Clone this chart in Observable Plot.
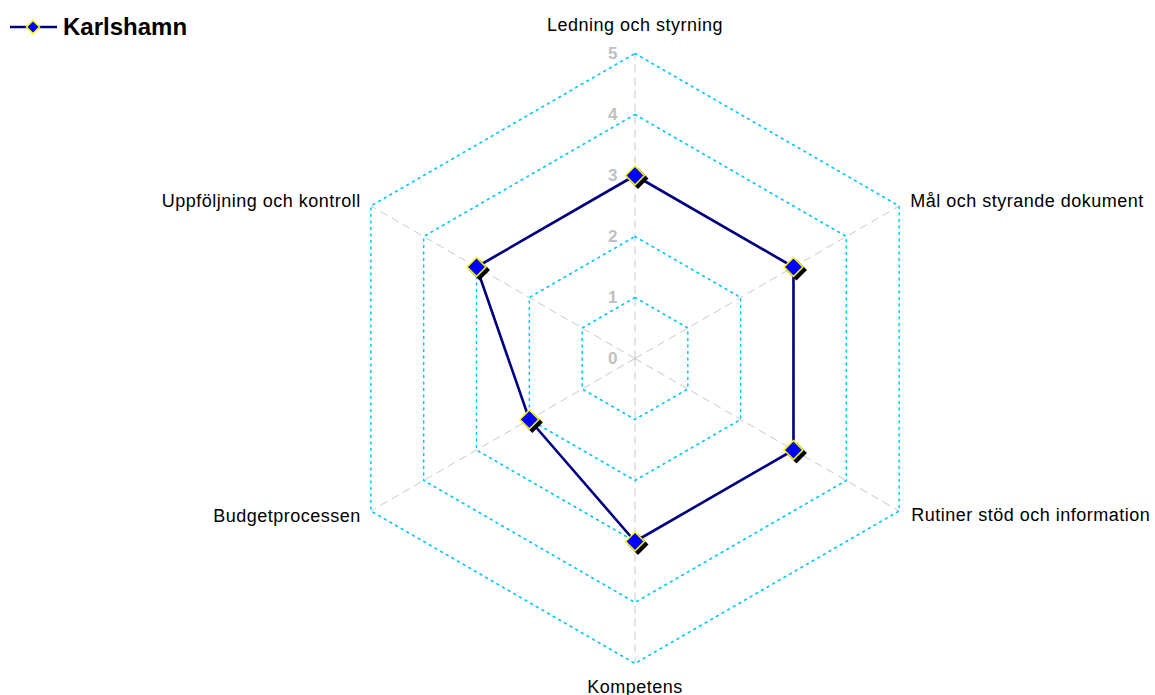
<!DOCTYPE html>
<html>
<head>
<meta charset="utf-8">
<script src="https://cdn.jsdelivr.net/npm/d3@7"></script>
<script src="https://cdn.jsdelivr.net/npm/@observablehq/plot@0.6"></script>
<style>
  html, body { margin: 0; padding: 0; background: #fff; }
  #wrap { position: relative; width: 1155px; height: 695px; font-family: "Liberation Sans", Arial, sans-serif; }
  #legend { position: absolute; left: 0; top: 0; }
  #chart svg { display: block; }
</style>
</head>
<body>
<div id="wrap">
  <div id="chart"></div>
  <div id="legend"></div>
</div>
<script>
const categories = [
  "Ledning och styrning",
  "Mål och styrande dokument",
  "Rutiner stöd och information",
  "Kompetens",
  "Budgetprocessen",
  "Uppföljning och kontroll"
];
const values = [3, 3, 3, 3, 2, 3];
const tickValues = [0, 1, 2, 3, 4, 5];
const seriesName = "Karlshamn";

const W = 1155, H = 695;
const cx = 634.5, cy = 358, k = 61; // pixels per unit
const xDomain = [-cx / k, (W - cx) / k];
const yDomain = [-(H - cy) / k, cy / k];
const maxV = d3.max(tickValues);

const n = categories.length;
const ang = i => (i * 2 * Math.PI) / n;
const px = (i, r) => r * Math.sin(ang(i));
const py = (i, r) => r * Math.cos(ang(i));

// rings
const rings = [];
tickValues.filter(t => t > 0).forEach(t => {
  for (let i = 0; i <= n; i++) rings.push({ring: t, x: px(i % n, t), y: py(i % n, t)});
});
// spokes
const spokes = categories.map((c, i) => ({x1: 0, y1: 0, x2: px(i, maxV), y2: py(i, maxV)}));
// data points
const pts = categories.map((c, i) => ({cat: c, v: values[i], x: px(i, values[i]), y: py(i, values[i])}));
// labels
const labs = categories.map((c, i) => ({cat: c, i, x: px(i, maxV), y: py(i, maxV)}));
const font = {fontFamily: '"Liberation Sans", Arial, sans-serif'};
const labStyle = {fontSize: 18, fill: "#000", ...font};

const chart = Plot.plot({
  width: W, height: H, margin: 0,
  style: {background: "#fff", overflow: "visible"},
  x: {domain: xDomain, axis: null},
  y: {domain: yDomain, axis: null},
  marks: [
    Plot.link(spokes, {x1: "x1", y1: "y1", x2: "x2", y2: "y2", stroke: "#c8c8c8", strokeWidth: 1, strokeDasharray: "8,5"}),
    Plot.line(rings, {x: "x", y: "y", z: "ring", stroke: "#00c8ff", strokeWidth: 1.5, strokeDasharray: "2,4.5"}),
    Plot.text(tickValues, {x: 0, y: d => d, text: d => String(d), textAnchor: "end", dx: -17, fill: "#c0c0c0", fontWeight: "bold", fontSize: 17, ...font}),
    Plot.line(pts, {x: "x", y: "y", curve: "linear-closed", stroke: "#000080", strokeWidth: 2.6}),
    Plot.dot(pts, {x: "x", y: "y", symbol: "diamond2", r: 8.5, fill: "#000", stroke: "#000", dx: 3, dy: 3}),
    Plot.dot(pts, {x: "x", y: "y", symbol: "diamond2", r: 8.5, fill: "#0000ff", stroke: "#ffff00", strokeWidth: 1.5}),
    Plot.text(labs.filter(d => d.i === 0), {x: "x", y: "y", text: "cat", textAnchor: "middle", dy: -28, ...labStyle}),
    Plot.text(labs.filter(d => d.i === 3), {x: "x", y: "y", text: "cat", textAnchor: "middle", dy: 24, ...labStyle}),
    Plot.text(labs.filter(d => d.i === 1), {x: "x", y: "y", text: "cat", textAnchor: "start", dx: 11, dy: -5, ...labStyle}),
    Plot.text(labs.filter(d => d.i === 2), {x: "x", y: "y", text: "cat", textAnchor: "start", dx: 12, dy: 4, ...labStyle}),
    Plot.text(labs.filter(d => d.i === 4), {x: "x", y: "y", text: "cat", textAnchor: "end", dx: -10, dy: 5, ...labStyle}),
    Plot.text(labs.filter(d => d.i === 5), {x: "x", y: "y", text: "cat", textAnchor: "end", dx: -10, dy: -5, ...labStyle})
  ]
});
chart.querySelectorAll("text").forEach(t => t.style.letterSpacing = "0.5px");
document.getElementById("chart").appendChild(chart);

// legend
const leg = d3.select("#legend").append("svg").attr("width", 260).attr("height", 50);
leg.append("line").attr("x1", 10).attr("x2", 57).attr("y1", 27).attr("y2", 27)
  .attr("stroke", "#000080").attr("stroke-width", 2.6);
leg.append("path").attr("d", d3.symbol(d3.symbolDiamond2, 110)()).attr("transform", "translate(33,27)")
  .attr("fill", "#0000ff").attr("stroke", "#ffff00").attr("stroke-width", 1.5);
leg.append("text").attr("x", 63).attr("y", 27).attr("dy", "0.35em").text(seriesName)
  .attr("font-family", '"Liberation Sans", Arial, sans-serif').attr("font-weight", "bold")
  .attr("font-size", 24).attr("fill", "#000");
</script>
</body>
</html>
